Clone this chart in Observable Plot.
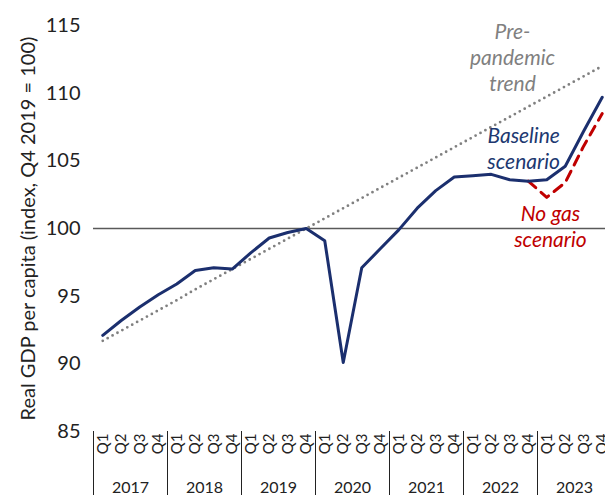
<!DOCTYPE html>
<html><head><meta charset="utf-8">
<script src="https://cdn.jsdelivr.net/npm/d3@7"></script>
<script src="https://cdn.jsdelivr.net/npm/@observablehq/plot@0.6"></script>
<style>
html,body{margin:0;padding:0;overflow:hidden;background:#fff;}
svg{display:block;max-width:none !important;}
</style></head>
<body><div id="chart"></div>
<script>
const years = ["2017","2018","2019","2020","2021","2022","2023"];
const quarterNames = ["Q1","Q2","Q3","Q4"];
const baseline = [92.1, 93.2, 94.2, 95.1, 95.9, 96.9, 97.1, 97.0, 98.2, 99.3, 99.7, 100.0,
  99.1, 90.1, 97.1, 98.5, 99.9, 101.5, 102.8, 103.8, 103.9, 104.0, 103.6, 103.5,
  103.6, 104.6, 107.2, 109.7];
const noGas = [null,null,null,null,null,null,null,null,null,null,null,null,
  null,null,null,null,null,null,null,null,null,null,null,103.5,
  102.3, 103.4, 106.1, 108.5];
const trend = [91.7, 92.45, 93.2, 93.95, 94.7, 95.5, 96.25, 97.0, 97.75, 98.5, 99.25, 100.0,
  100.75, 101.5, 102.25, 103.0, 103.75, 104.5, 105.25, 106.0, 106.75, 107.5, 108.25, 109.0,
  109.75, 110.5, 111.25, 112.0];
const yTicks = [85, 90, 95, 100, 105, 110, 115];
const annotations = [
  {x: 22.65, y: 112.7, text: "Pre-\npandemic\ntrend", color: "#808080"},
  {x: 23.25, y: 106.0, text: "Baseline\nscenario", color: "#203870"},
  {x: 24.7, y: 100.2, text: "No gas\nscenario", color: "#c00000"}
];

const labels = years.flatMap(y => quarterNames.map(q => y + " " + q));
const rows = labels.map((k, i) => ({i: i + 0.5, base: baseline[i], nogas: noGas[i], trend: trend[i]}));
const qTicks = labels.map((k, i) => i + 0.5);
const yearBounds = years.map((y, i) => i * 4).concat([years.length * 4]);
const yearCenters = years.map((y, i) => i * 4 + 2);

const font = "Lato, 'Open Sans', sans-serif";
const chart = Plot.plot({
  width: 620, height: 495,
  marginLeft: 93, marginRight: 9, marginTop: 25, marginBottom: 64,
  style: {fontFamily: font, color: "#222", background: "#fff", maxWidth: "none"},
  x: {type: "linear", domain: [0, labels.length]},
  y: {domain: [85, 115]},
  marks: [
    Plot.ruleY([100], {stroke: "#595959", strokeWidth: 1.3}),
    Plot.line(rows, {x: "i", y: "trend", stroke: "#808080", strokeWidth: 2.8, strokeDasharray: "0,5.6", strokeLinecap: "round"}),
    Plot.line(rows.filter(d => d.nogas != null), {x: "i", y: "nogas", stroke: "#c00000", strokeWidth: 3, strokeDasharray: "10,7"}),
    Plot.line(rows, {x: "i", y: "base", stroke: "#1b2f6e", strokeWidth: 3}),
    Plot.text(annotations, {x: "x", y: "y", text: "text", fill: "color", fontSize: 21, fontStyle: "italic", lineHeight: 1.25, textAnchor: "middle"}),
    Plot.axisY({ticks: yTicks, tickSize: 0, tickPadding: 13, fontSize: 20, label: "Real GDP per capita (index, Q4 2019 = 100)", labelAnchor: "center", labelOffset: 73, labelArrow: "none"}),
    Plot.axisX({ticks: qTicks, tickSize: 0, tickPadding: 2, tickRotate: -90, fontSize: 15, tickFormat: (d) => labels[Math.floor(d)].split(" ")[1], label: null}),
    Plot.axisX({ticks: yearBounds, tickSize: 64, stroke: "#222", tickFormat: () => "", label: null}),
    Plot.axisX({ticks: yearCenters, tickSize: 0, tickPadding: 50, fontSize: 16, tickFormat: (d) => years[Math.floor(d / 4)], label: null})
  ]
});
document.getElementById("chart").appendChild(chart);
</script></body></html>
